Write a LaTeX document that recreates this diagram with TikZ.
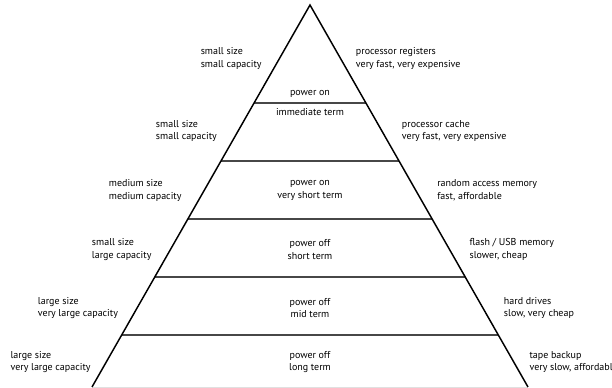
\documentclass[tikz,border=0pt]{standalone}
\usepackage{fontspec}
\setmainfont{PT Sans}
\usetikzlibrary{calc}
\begin{document}
\begin{tikzpicture}[x=0.75pt,y=-0.75pt,
  side/.style={line width=1.1pt,black},
  level/.style={line width=1.4pt,black!72},
  base/.style={line width=0.6pt,black!12},
  lbl/.style={inner sep=0pt,align=left,anchor=west,font=\fontsize{7.5}{9.4}\selectfont},
  ctr/.style={inner sep=0pt,align=center,anchor=center,font=\fontsize{7.5}{9.4}\selectfont}]
\useasboundingbox (0,0) rectangle (612,388);
\coordinate (apex) at (310,5);
\coordinate (bl) at (92,387);
\coordinate (br) at (528,387);
% levels
\foreach \t/\n in {0.2565/a,0.4084/b,0.5602/c,0.7120/d,0.8639/e}{
  \coordinate (l\n) at ($(apex)!\t!(bl)$);
  \coordinate (r\n) at ($(apex)!\t!(br)$);
  \draw[level] (l\n) -- (r\n);
}
\draw[base] (bl) -- (br);
\draw[side] (bl) -- (apex) -- (br);
% left labels
\node[lbl] (L1) at (200.5,58.5) {small size\\small capacity};
\node[lbl] (L2) at (155.7,131) {small size\\small capacity};
\node[lbl] (L3) at (108.7,190.5) {medium size\\medium capacity};
\node[lbl] (L4) at (91.7,249.5) {small size\\large capacity};
\node[lbl] (L5) at (37.7,308) {large size\\very large capacity};
\node[lbl] (L6) at (10.3,362) {large size\\very large capacity};
% right labels
\node[lbl] (R1) at (355.7,58.5) {processor registers\\very fast, very expensive};
\node[lbl] (R2) at (401.7,131) {processor cache\\very fast, very expensive};
\node[lbl] (R3) at (437,190.5) {random access memory\\fast, affordable};
\node[lbl] (R4) at (469.3,249.5) {flash / USB memory\\slower, cheap};
\node[lbl] (R5) at (503.7,308) {hard drives\\slow, very cheap};
\node[lbl] (R6) at (529.3,362) {tape backup\\very slow, affordable};
% centre labels
\node[ctr] (C1a) at (310,94) {power on};
\node[ctr] (C1b) at (310,112.5) {immediate term};
\node[ctr] (C3) at (310,190.5) {power on\\very short term};
\node[ctr] (C4) at (310,249.5) {power off\\short term};
\node[ctr] (C5) at (310,308) {power off\\mid term};
\node[ctr] (C6) at (310,362) {power off\\long term};
\end{tikzpicture}
\end{document}
